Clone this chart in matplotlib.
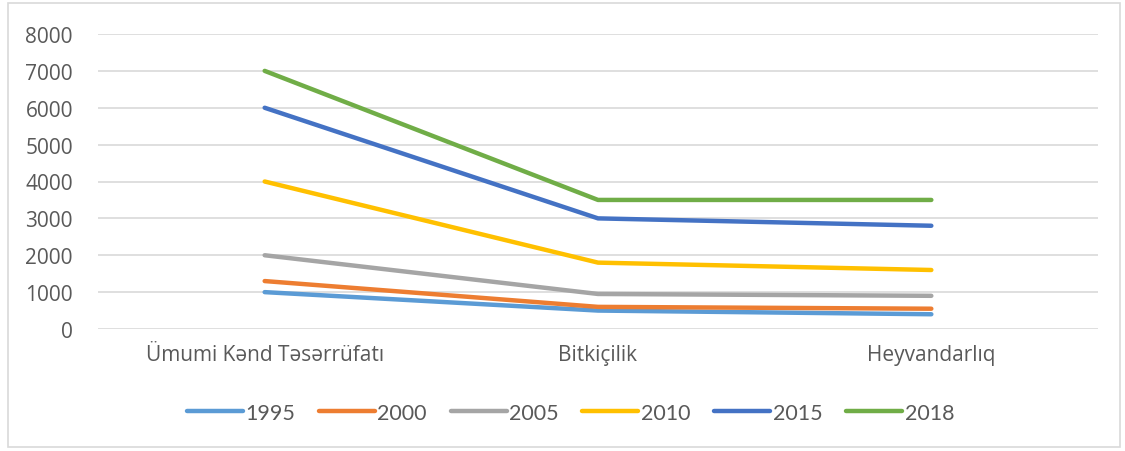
import matplotlib
matplotlib.use("Agg")
import matplotlib.pyplot as plt
from matplotlib.patches import Rectangle

categories = ["Ümumi Kənd Təsərrüfatı", "Bitkiçilik", "Heyvandarlıq"]
years = ["1995", "2000", "2005", "2010", "2015", "2018"]
v1995 = [1000, 500, 400]
v2000 = [1300, 600, 550]
v2005 = [2000, 950, 900]
v2010 = [4000, 1800, 1600]
v2015 = [6000, 3000, 2800]
v2018 = [7000, 3500, 3500]
series = [v1995, v2000, v2005, v2010, v2015, v2018]
colors = ["#5B9BD5", "#ED7D31", "#A5A5A5", "#FFC000", "#4472C4", "#70AD47"]
yticks = [0, 1000, 2000, 3000, 4000, 5000, 6000, 7000, 8000]

plt.rcParams['font.family'] = ['Open Sans', 'DejaVu Sans']
fig = plt.figure(figsize=(11.25, 4.52), dpi=100)
ax = fig.add_axes([98/1125, 1 - 330/452, 1000/1125, 295/452])

x = list(range(len(categories)))
for s, c, lab in zip(series, colors, years):
    ax.plot(x, s, color=c, lw=3.2, solid_capstyle='round', label=lab)

ax.set_xlim(-0.5, 2.5)
ax.set_ylim(0, 8000)
ax.set_yticks(yticks)
ax.set_yticklabels([str(t) for t in yticks])
ax.set_xticks(x)
ax.set_xticklabels(categories)
ax.tick_params(axis='both', length=0, labelsize=15, colors='#595959')
ax.tick_params(axis='x', pad=11)
ax.tick_params(axis='y', pad=18)
ax.grid(axis='y', color='#D9D9D9', lw=1.2)
ax.set_axisbelow(True)
for sp in ax.spines.values():
    sp.set_visible(False)

leg = fig.legend(loc='center', bbox_to_anchor=(0.507, 1 - 414/452), ncol=6,
                 frameon=False, handlelength=2.6, columnspacing=1.1,
                 handletextpad=0.12, prop={'family': ['Lato', 'DejaVu Sans'], 'size': 15.5})
for t in leg.get_texts():
    t.set_color('#595959')

fig.patches.append(Rectangle((8/1125, 4/452), 1112/1125, 444/452, transform=fig.transFigure,
                             fill=False, edgecolor='#D9D9D9', lw=1.2))

fig.savefig("out.png", dpi=100)
